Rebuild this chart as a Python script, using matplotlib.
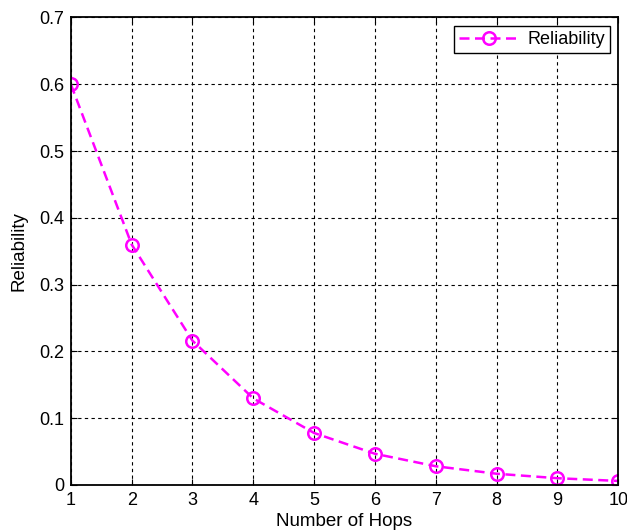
import matplotlib
matplotlib.use("Agg")
import matplotlib.pyplot as plt

hops = [1, 2, 3, 4, 5, 6, 7, 8, 9, 10]
reliability = [0.6, 0.36, 0.216, 0.1296, 0.0778, 0.0467, 0.028, 0.0168, 0.0101, 0.006]

plt.rcParams['font.family'] = ['Liberation Sans', 'DejaVu Sans']
plt.rcParams['font.size'] = 13

fig = plt.figure(figsize=(6.27, 5.3), dpi=100)
ax = fig.add_axes([0.113, 0.085, 0.873, 0.882])

ax.plot(hops, reliability, '--o', color='#ff00ff', lw=1.8, ms=9,
        mfc='none', mew=1.8, dashes=(4, 2.2), label='Reliability')

ax.set_xlim(1, 10)
ax.set_ylim(0, 0.7)
ax.set_xticks(hops)
ax.set_yticks([0, 0.1, 0.2, 0.3, 0.4, 0.5, 0.6, 0.7])
ax.set_yticklabels(['0', '0.1', '0.2', '0.3', '0.4', '0.5', '0.6', '0.7'])
ax.grid(True, color='black', ls=(0, (3, 3)), lw=0.8)
ax.tick_params(direction='in', length=4, width=0.8, top=True, right=True,
               labelsize=13, pad=5)
for s in ax.spines.values():
    s.set_linewidth(1.3)

ax.set_xlabel('Number of Hops', fontsize=13.5, labelpad=3)
ax.set_ylabel('Reliability', fontsize=13.5, labelpad=8)

leg = ax.legend(loc='upper right', fancybox=False, edgecolor='black',
                framealpha=1, fontsize=13, handlelength=3.3,
                handletextpad=0.45, borderpad=0.3, borderaxespad=0.45)
leg.get_frame().set_linewidth(1.0)

fig.savefig('out.png', dpi=100)
